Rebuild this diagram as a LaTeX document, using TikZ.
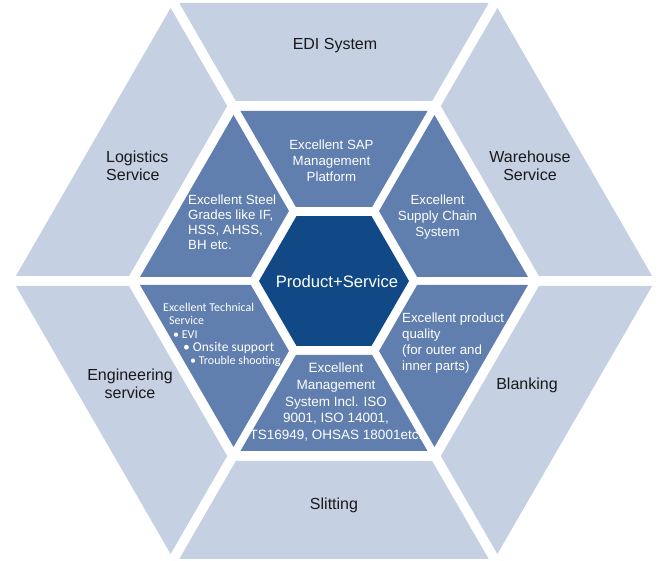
\documentclass[tikz,border=0pt]{standalone}
\usepackage{fontspec}
\setmainfont{Liberation Sans}
\newfontfamily\calfont{Carlito}
\definecolor{outerc}{RGB}{197,208,227}
\definecolor{midc}{RGB}{96,127,174}
\definecolor{corec}{RGB}{16,73,134}
\definecolor{labc}{RGB}{25,25,25}
\newcommand\hexpiece[5]{% rotation, inner apothem, outer apothem, gap, colour
  \fill[#5, rotate=#1]
    ({-(#3-#4)/sqrt(3)}, #3) -- ({(#3-#4)/sqrt(3)}, #3) --
    ({(#2-#4)/sqrt(3)}, #2) -- ({-(#2-#4)/sqrt(3)}, #2) -- cycle;}
\tikzset{
  outtxt/.style={font=\fontsize{16}{18.5}\selectfont, text=labc, align=center, inner sep=0pt},
  intxt/.style={font=\fontsize{13.3}{16}\selectfont, text=white, align=center, inner sep=0pt}
}
\begin{document}
\begin{tikzpicture}[x=1pt,y=1pt]
\useasboundingbox (-334,-280) rectangle (325,281);
% outer ring
\foreach \r in {0,60,...,300} {\hexpiece{\r}{180}{278}{10}{outerc}}
% middle ring
\foreach \r in {0,60,...,300} {\hexpiece{\r}{74}{170}{8}{midc}}
% core
\fill[corec] (0:75) -- (60:75) -- (120:75) -- (180:75) -- (240:75) -- (300:75) -- cycle;
% outer labels
\node[outtxt, anchor=base] (edi) at (1,231) {EDI System};
\node[outtxt, align=left, anchor=west] (log) at (-228,115) {Logistics\\Service};
\node[outtxt] (war) at (196,115) {Warehouse\\Service};
\node[outtxt] (eng) at (-204,-103) {Engineering\\service};
\node[outtxt, anchor=base] (blank) at (193,-109) {Blanking};
\node[outtxt, anchor=base] (slit) at (0,-229) {Slitting};
% inner labels
\node[intxt] (sap) at (-2.5,120) {Excellent SAP\\Management\\Platform};
\node[intxt, align=left, anchor=west, font=\fontsize{13.3}{15}\selectfont] (steel) at (-146,58.5) {Excellent Steel\\Grades like IF,\\HSS, AHSS,\\BH etc.};
\node[intxt] (supply) at (103.5,64) {Excellent\\Supply Chain\\System};
\node[intxt, align=left, anchor=west] (quality) at (68,-62.5) {Excellent product\\quality\\(for outer and\\inner parts)};
\node[intxt, font=\fontsize{13.5}{16.8}\selectfont] (mgmt) at (2,-121) {Excellent\\Management\\System Incl. ISO\\9001, ISO 14001,\\TS16949, OHSAS 18001etc.};
\node[intxt, align=left, anchor=west, font=\calfont\fontsize{12}{13.3}\selectfont] (tech) at (-171,-54)
  {Excellent Technical\\
   \hspace*{6pt}Service\\
   \hspace*{10pt}\textbullet\ EVI\\
   \hspace*{20pt}{\fontsize{13.5}{13.3}\selectfont\textbullet\ Onsite support}\\
   \hspace*{27pt}\textbullet\ Trouble shooting};
% core label
\node[font=\fontsize{16.6}{20}\selectfont, text=white, inner sep=0pt, anchor=base] (core) at (3,-6.3) {Product+Service};
\end{tikzpicture}
\end{document}
